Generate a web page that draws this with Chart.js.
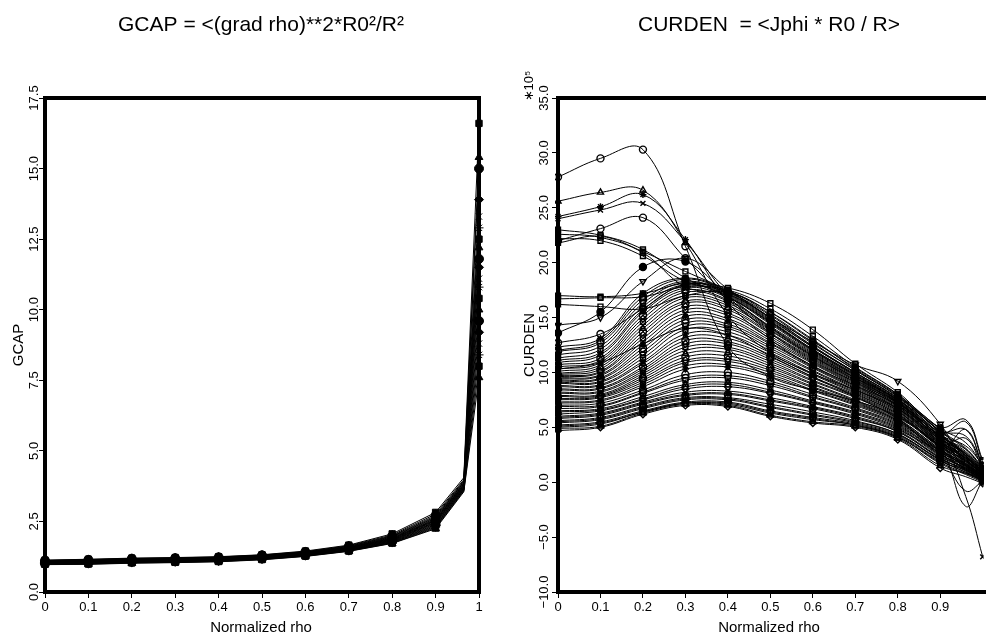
<!DOCTYPE html>
<html>
<head>
<meta charset="utf-8">
<script src="https://cdn.jsdelivr.net/npm/chart.js@4.4.0/dist/chart.umd.min.js"></script>
<style>
  html, body { margin: 0; padding: 0; background: #fff; }
  #wrap { position: relative; width: 986px; height: 641px; overflow: hidden; }
  canvas { position: absolute; top: 0; }
</style>
</head>
<body>
<div id="wrap">
  <canvas id="gcap" width="493" height="641" style="left:0"></canvas>
  <canvas id="curden" width="493" height="641" style="left:493px"></canvas>
</div>
<script>
/* GCAP profiles (left panel) */
const rhoGcap = [0, 0.1, 0.2, 0.3, 0.4, 0.5, 0.6, 0.7, 0.8, 0.9, 0.965, 1.0];
const gc01 = [1.13, 1.16, 1.20, 1.22, 1.25, 1.32, 1.45, 1.66, 2.06, 2.82, 4.05, 16.6];
const gc02 = [1.12, 1.15, 1.19, 1.21, 1.24, 1.31, 1.43, 1.64, 2.02, 2.76, 3.98, 15.4];
const gc03 = [1.11, 1.14, 1.18, 1.20, 1.23, 1.30, 1.42, 1.62, 1.99, 2.71, 3.94, 15.0];
const gc04 = [1.10, 1.13, 1.17, 1.19, 1.22, 1.29, 1.41, 1.61, 1.97, 2.67, 3.91, 13.9];
const gc05 = [1.09, 1.12, 1.16, 1.18, 1.21, 1.28, 1.40, 1.59, 1.95, 2.64, 3.88, 13.3];
const gc06 = [1.08, 1.11, 1.15, 1.17, 1.20, 1.27, 1.39, 1.58, 1.93, 2.61, 3.86, 12.9];
const gc07 = [1.07, 1.10, 1.14, 1.16, 1.19, 1.26, 1.38, 1.57, 1.91, 2.58, 3.83, 12.5];
const gc08 = [1.06, 1.09, 1.13, 1.16, 1.19, 1.25, 1.37, 1.56, 1.90, 2.56, 3.81, 12.2];
const gc09 = [1.06, 1.08, 1.12, 1.15, 1.18, 1.25, 1.36, 1.55, 1.88, 2.54, 3.79, 11.8];
const gc10 = [1.05, 1.08, 1.12, 1.14, 1.17, 1.24, 1.35, 1.54, 1.87, 2.52, 3.77, 11.5];
const gc11 = [1.04, 1.07, 1.11, 1.13, 1.16, 1.23, 1.34, 1.53, 1.85, 2.49, 3.75, 11.1];
const gc12 = [1.03, 1.06, 1.10, 1.12, 1.15, 1.22, 1.33, 1.52, 1.84, 2.47, 3.73, 10.8];
const gc13 = [1.03, 1.05, 1.09, 1.11, 1.14, 1.21, 1.32, 1.51, 1.82, 2.45, 3.71, 10.4];
const gc14 = [1.02, 1.04, 1.08, 1.10, 1.13, 1.20, 1.31, 1.50, 1.81, 2.42, 3.69, 10.0];
const gc15 = [1.01, 1.03, 1.07, 1.09, 1.12, 1.19, 1.31, 1.49, 1.79, 2.39, 3.67, 9.6];
const gc16 = [1.00, 1.02, 1.06, 1.08, 1.11, 1.18, 1.30, 1.48, 1.78, 2.36, 3.65, 9.2];
const gc17 = [1.00, 1.01, 1.05, 1.07, 1.10, 1.17, 1.29, 1.47, 1.76, 2.33, 3.63, 8.8];
const gc18 = [0.99, 1.00, 1.04, 1.06, 1.09, 1.16, 1.28, 1.46, 1.75, 2.30, 3.61, 8.4];
const gc19 = [0.98, 0.99, 1.03, 1.05, 1.08, 1.15, 1.27, 1.45, 1.73, 2.27, 3.58, 8.0];
const gc20 = [0.97, 0.98, 1.02, 1.04, 1.07, 1.14, 1.26, 1.44, 1.72, 2.24, 3.55, 7.6];
const gcapCurves = [gc01, gc02, gc03, gc04, gc05, gc06, gc07, gc08, gc09, gc10,
                    gc11, gc12, gc13, gc14, gc15, gc16, gc17, gc18, gc19, gc20];

/* CURDEN profiles (right panel), units of 1e5 */
const rhoCurden = [0, 0.1, 0.2, 0.3, 0.4, 0.5, 0.6, 0.7, 0.8, 0.9, 0.96, 1.0];
const cd01 = [27.8, 29.5, 30.3, 21.5, 12.4, 9.6, 8.4, 7.4, 6.0, 3.4, 2.2, 1.0];
const cd02 = [25.6, 26.4, 26.6, 21.8, 15.2, 11.8, 9.9, 8.4, 6.7, 3.9, 2.6, 1.2];
const cd03 = [24.2, 25.1, 26.2, 22.1, 16.4, 13.0, 10.6, 8.8, 7.0, 4.1, 3.0, 1.4];
const cd04 = [24.0, 24.8, 25.4, 21.9, 17.0, 13.6, 11.1, 9.1, 7.2, 4.3, 3.3, 1.6];
const cd05 = [22.0, 23.1, 24.1, 20.4, 16.6, 13.9, 11.5, 9.3, 7.3, 4.4, 5.5, 1.8];
const cd06 = [23.0, 22.5, 21.2, 18.6, 16.9, 14.6, 12.1, 9.8, 7.5, 4.6, 4.8, 1.5];
const cd07 = [22.6, 22.3, 20.9, 17.8, 17.1, 15.0, 12.4, 10.0, 7.7, 4.7, 3.1, 1.2];
const cd08 = [22.2, 22.0, 20.6, 18.3, 17.3, 15.2, 12.6, 10.2, 7.8, 4.8, 2.4, 1.0];
const cd09 = [21.8, 22.4, 21.0, 19.2, 17.5, 15.5, 12.9, 10.4, 8.0, 4.9, 3.6, 1.5];
const cd10 = [13.6, 15.5, 19.6, 20.1, 17.0, 14.1, 11.6, 9.5, 7.5, 4.5, 1.0, 0.5];
const cd11 = [14.3, 15.0, 18.3, 20.4, 17.6, 15.0, 12.8, 10.7, 9.2, 5.3, 1.5, 0.6];
const cd12 = [17.0, 16.9, 17.2, 18.1, 17.7, 16.3, 13.9, 10.8, 8.2, 5.0, 5.7, 2.0];
const cd13 = [16.7, 16.8, 16.9, 17.8, 17.5, 15.8, 13.3, 10.5, 8.0, 4.7, 4.2, 1.6];
const cd14 = [16.2, 16.0, 15.8, 17.0, 17.3, 15.5, 13.0, 10.3, 7.9, 4.6, 3.0, 1.2];
const cd15 = [12.7, 13.5, 15.8, 18.0, 17.4, 15.3, 12.7, 10.2, 7.8, 4.5, 2.0, 0.8];
const cd16 = [12.3, 13.1, 17.2, 18.6, 17.4, 15.0, 12.4, 10.0, 7.6, 4.4, 2.6, 1.0];
const cd17 = [11.9, 12.7, 16.6, 18.3, 17.2, 14.8, 12.3, 9.9, 7.5, 4.3, 2.3, 0.8];
const cd18 = [11.3, 12.1, 16.0, 18.0, 17.0, 14.6, 12.0, 9.7, 7.4, 4.2, 2.8, 1.1];
const cd19 = [10.9, 11.6, 15.5, 17.7, 16.8, 14.4, 11.9, 9.6, 7.3, 4.1, 2.1, 0.7];
const cd20 = [10.5, 11.1, 14.9, 17.3, 16.5, 14.1, 11.7, 9.5, 7.2, 4.0, 2.5, 0.9];
const cd21 = [10.1, 10.7, 14.3, 16.8, 16.1, 13.8, 11.4, 9.3, 7.0, 3.9, -1.3, -6.8];
const cd22 = [9.8, 10.3, 13.7, 16.3, 15.7, 13.5, 11.2, 9.1, 6.9, 3.8, 2.0, 0.8];
const cd23 = [9.6, 10.0, 13.1, 15.7, 15.2, 13.1, 10.9, 8.9, 6.8, 3.7, 2.4, 1.0];
const cd24 = [9.4, 9.7, 12.5, 15.1, 14.7, 12.7, 10.6, 8.7, 6.7, 3.6, 1.8, 0.6];
const cd25 = [9.2, 9.4, 11.9, 14.5, 14.2, 12.4, 10.4, 8.5, 6.5, 3.5, 2.2, 0.9];
const cd26 = [9.0, 9.1, 11.3, 13.9, 13.7, 12.0, 10.1, 8.3, 6.4, 3.4, 1.6, 0.5];
const cd27 = [8.7, 8.8, 10.8, 13.2, 13.1, 11.6, 9.8, 8.1, 6.2, 3.3, 2.0, 0.8];
const cd28 = [8.4, 8.5, 10.3, 12.6, 12.6, 11.2, 9.5, 7.9, 6.1, 3.2, 1.5, 0.4];
const cd29 = [8.1, 8.2, 9.9, 12.0, 12.1, 10.8, 9.2, 7.7, 5.9, 3.1, -2.2, 0.2];
const cd30 = [7.8, 7.9, 9.5, 11.4, 11.5, 10.4, 8.9, 7.4, 5.7, 3.0, 1.4, 0.5];
const cd31 = [7.5, 7.7, 9.1, 10.9, 11.0, 10.0, 8.6, 7.2, 5.6, 2.9, 1.7, 0.6];
const cd32 = [7.2, 7.4, 8.7, 10.3, 10.5, 9.6, 8.3, 7.0, 5.4, 2.8, 1.2, 0.3];
const cd33 = [7.0, 7.2, 8.4, 9.8, 10.0, 9.2, 8.0, 6.8, 5.3, 2.7, 1.6, 0.6];
const cd34 = [6.7, 6.9, 8.1, 9.3, 9.5, 8.8, 7.7, 6.6, 5.1, 2.6, 1.1, 0.2];
const cd35 = [6.5, 6.7, 7.8, 8.9, 9.1, 8.4, 7.4, 6.4, 5.0, 2.5, 1.5, 0.5];
const cd36 = [6.2, 6.5, 7.5, 8.5, 8.7, 8.1, 7.2, 6.2, 4.8, 2.4, -0.8, 0.1];
const cd37 = [6.0, 6.3, 7.3, 8.2, 8.3, 7.7, 6.9, 6.0, 4.7, 2.3, 1.3, 0.4];
const cd38 = [5.8, 6.1, 7.1, 7.9, 8.0, 7.4, 6.7, 5.8, 4.6, 2.2, 1.0, 0.2];
const cd39 = [5.6, 5.9, 6.9, 7.7, 7.7, 7.1, 6.4, 5.6, 4.4, 2.1, 1.2, 0.4];
const cd40 = [5.4, 5.7, 6.7, 7.5, 7.5, 6.8, 6.1, 5.4, 4.3, 2.0, 0.9, 0.1];
const cd41 = [5.2, 5.5, 6.5, 7.3, 7.3, 6.5, 5.9, 5.3, 4.2, 1.9, 1.1, 0.3];
const cd42 = [5.0, 5.3, 6.4, 7.2, 7.1, 6.3, 5.7, 5.2, 4.1, 1.7, 0.7, 0.0];
const cd43 = [4.9, 5.1, 6.3, 7.1, 7.0, 6.1, 5.5, 5.1, 4.0, 1.5, 0.8, 0.2];
const cd44 = [4.7, 5.0, 6.2, 7.0, 6.9, 6.0, 5.4, 5.0, 3.9, 1.3, 0.5, -0.1];
const cd45 = [10.3, 10.9, 12.6, 14.0, 13.4, 11.5, 9.6, 7.8, 5.8, 3.0, 4.8, 1.4];
const cd46 = [12.0, 12.9, 16.9, 18.5, 17.3, 14.9, 12.3, 10.0, 7.6, 4.4, 2.4, 0.9];
const cd47 = [11.6, 12.4, 16.3, 18.2, 17.1, 14.7, 12.1, 9.8, 7.4, 4.2, 2.6, 1.0];
const cd48 = [11.1, 11.8, 15.7, 17.9, 16.9, 14.5, 12.0, 9.7, 7.3, 4.1, 1.9, 0.6];
const cd49 = [10.7, 11.3, 15.2, 17.5, 16.6, 14.2, 11.8, 9.5, 7.2, 4.0, 2.7, 1.1];
const cd50 = [10.3, 10.9, 14.6, 17.0, 16.3, 14.0, 11.5, 9.4, 7.1, 3.9, 2.2, 0.8];
const cd51 = [9.9, 10.5, 14.0, 16.5, 15.9, 13.6, 11.3, 9.2, 7.0, 3.8, 1.7, 0.5];
const cd52 = [9.7, 10.1, 13.4, 16.0, 15.4, 13.3, 11.0, 9.0, 6.9, 3.7, 2.1, 0.8];
const cd53 = [9.5, 9.8, 12.8, 15.4, 14.9, 12.9, 10.8, 8.8, 6.7, 3.6, 2.3, 0.9];
const cd54 = [9.3, 9.5, 12.2, 14.8, 14.4, 12.6, 10.5, 8.6, 6.6, 3.5, 1.9, 0.7];
const cd55 = [9.1, 9.2, 11.6, 14.2, 14.0, 12.2, 10.2, 8.4, 6.5, 3.4, 4.0, 1.2];
const cd56 = [8.8, 8.9, 11.0, 13.5, 13.4, 11.8, 9.9, 8.2, 6.3, 3.3, 1.7, 0.6];
const cd57 = [8.5, 8.6, 10.5, 12.9, 12.8, 11.4, 9.6, 8.0, 6.2, 3.2, 1.9, 0.7];
const cd58 = [8.2, 8.3, 10.1, 12.3, 12.3, 11.0, 9.3, 7.8, 6.0, 3.1, 1.3, 0.4];
const cd59 = [7.9, 8.0, 9.7, 11.7, 11.8, 10.6, 9.0, 7.5, 5.8, 3.0, 1.6, 0.5];
const cd60 = [7.6, 7.8, 9.3, 11.1, 11.2, 10.2, 8.7, 7.3, 5.6, 2.9, 1.4, 0.4];
const cd61 = [7.3, 7.5, 8.9, 10.6, 10.7, 9.8, 8.4, 7.1, 5.5, 2.8, 1.5, 0.5];
const cd62 = [6.9, 7.0, 8.2, 9.5, 9.7, 9.0, 7.8, 6.7, 5.2, 2.6, 1.2, 0.3];
const cd63 = [6.4, 6.6, 7.6, 8.7, 8.9, 8.2, 7.3, 6.3, 4.9, 2.4, 1.3, 0.4];
const cd64 = [5.9, 6.2, 7.2, 8.0, 8.1, 7.5, 6.8, 5.9, 4.6, 2.2, 1.1, 0.3];
const cd65 = [5.5, 5.8, 6.8, 7.6, 7.6, 6.9, 6.2, 5.5, 4.4, 2.0, 0.9, 0.2];
const cd66 = [5.1, 5.4, 6.4, 7.2, 7.2, 6.4, 5.8, 5.2, 4.1, 1.8, 0.8, 0.1];
const curdenCurves = [cd01, cd02, cd03, cd04, cd05, cd06, cd07, cd08, cd09, cd10,
                      cd11, cd12, cd13, cd14, cd15, cd16, cd17, cd18, cd19, cd20,
                      cd21, cd22, cd23, cd24, cd25, cd26, cd27, cd28, cd29, cd30,
                      cd31, cd32, cd33, cd34, cd35, cd36, cd37, cd38, cd39, cd40,
                      cd41, cd42, cd43, cd44, cd45, cd46, cd47, cd48, cd49, cd50,
                      cd51, cd52, cd53, cd54, cd55, cd56, cd57, cd58, cd59, cd60,
                      cd61, cd62, cd63, cd64, cd65, cd66];

/* ticks */
const rhoTickVals = [0, 0.1, 0.2, 0.3, 0.4, 0.5, 0.6, 0.7, 0.8, 0.9, 1];
const rhoTickText = ['0', '0.1', '0.2', '0.3', '0.4', '0.5', '0.6', '0.7', '0.8', '0.9', '1'];
const gcapTickVals = [0, 2.5, 5, 7.5, 10, 12.5, 15, 17.5];
const gcapTickText = ['0.0', '2.5', '5.0', '7.5', '10.0', '12.5', '15.0', '17.5'];
const curdenTickVals = [-10, -5, 0, 5, 10, 15, 20, 25, 30, 35];
const curdenTickText = ['\u221210.0', '\u22125.0', '0.0', '5.0', '10.0', '15.0', '20.0', '25.0', '30.0', '35.0'];

const gcapMarks = ['rect', 'triangle', 'circle', 'rectRot', 'crossRot', 'star'];
const curdenMarks = ['circle', 'triangle', 'star', 'crossRot', 'circle', 'rect', 'rect', 'rect', 'rect',
                     'circle', 'triangleDown', 'rect', 'rect', 'rect', 'circle'];
const bundleMarks = ['circle', 'rect', 'triangle', 'rectRot', 'crossRot', 'circle', 'rect', 'star'];
const filledCurden = [2, 9];

const FONT = '"Liberation Sans", Arial, sans-serif';

// titles, frame and rotated y labels
const panelText = {
  id: 'panelText',
  afterDraw(chart, args, o) {
    const ctx = chart.ctx;
    const a = chart.chartArea;
    const ys = chart.scales.y;
    ctx.save();
    ctx.strokeStyle = '#000';
    ctx.lineWidth = 4;
    ctx.strokeRect(a.left, a.top, (o.openRight ? a.right + 20 : a.right) - a.left, a.bottom - a.top);

    ctx.fillStyle = '#000';
    ctx.textAlign = 'center';
    ctx.textBaseline = 'alphabetic';
    ctx.font = '21px ' + FONT;
    ctx.fillText(o.title, o.titleX, 31);

    ctx.font = '15px ' + FONT;
    ctx.textBaseline = 'middle';
    ctx.fillText('Normalized rho', o.titleX, 628);

    // y tick labels, rotated
    ctx.font = '13px ' + FONT;
    o.tickVals.forEach((v, i) => {
      ctx.save();
      ctx.translate(o.tickX, ys.getPixelForValue(v));
      ctx.rotate(-Math.PI / 2);
      ctx.fillText(o.tickText[i], 0, 0);
      ctx.restore();
    });

    ctx.font = '15px ' + FONT;
    ctx.save();
    ctx.translate(o.yTitleX, (a.top + a.bottom) / 2);
    ctx.rotate(-Math.PI / 2);
    ctx.fillText(o.yTitle, 0, 0);
    ctx.restore();

    if (o.exp) {
      ctx.save();
      ctx.translate(o.yTitleX - 1, 86);
      ctx.rotate(-Math.PI / 2);
      ctx.font = '13px ' + FONT;
      ctx.fillText(o.exp, 0, 0);
      ctx.restore();
    }
    ctx.restore();
  }
};

function makeSets(xs, curves, styleFor, opt) {
  return curves.map((ys, i) => {
    const s = styleFor(i);
    return {
      data: xs.map((x, j) => ({ x: x, y: ys[j] })),
      borderColor: '#000',
      borderWidth: 1,
      pointStyle: s.style,
      pointRotation: s.rot,
      pointBackgroundColor: s.fill ? '#000' : 'rgba(0,0,0,0)',
      pointBorderColor: '#000',
      pointBorderWidth: opt.pw,
      pointRadius: c => (c.raw && c.raw.x === opt.hideX) ? 0 : opt.r,
      tension: opt.tension,
      clip: opt.clip
    };
  });
}

function makeOptions(cfg) {
  const tickGrid = { drawOnChartArea: false, drawTicks: true, tickLength: 6, color: '#000', lineWidth: 1 };
  return {
    responsive: false,
    animation: false,
    devicePixelRatio: 1,
    layout: { padding: cfg.pad },
    plugins: { legend: { display: false }, tooltip: { enabled: false }, title: { display: false }, panelText: cfg.text },
    scales: {
      x: {
        type: 'linear', min: 0, max: cfg.xMax,
        afterFit: s => { s.height = 49; },
        afterBuildTicks: s => { s.ticks = cfg.xVals.map(v => ({ value: v })); },
        border: { display: false },
        grid: tickGrid,
        ticks: {
          color: '#000', font: { family: FONT, size: 13 }, padding: 2,
          maxRotation: 0, autoSkip: false,
          callback: (v, i) => cfg.xText[i]
        }
      },
      y: {
        type: 'linear', min: cfg.yMin, max: cfg.yMax,
        afterFit: s => { s.width = cfg.yWidth; },
        afterBuildTicks: s => { s.ticks = cfg.yVals.map(v => ({ value: v })); },
        border: { display: false },
        grid: tickGrid,
        ticks: { display: false }
      }
    }
  };
}

new Chart(document.getElementById('gcap'), {
  type: 'line',
  data: {
    datasets: makeSets(rhoGcap, gcapCurves,
      i => ({ style: gcapMarks[i % gcapMarks.length], rot: 0, fill: true }),
      { hideX: 0.965, r: 4.5, pw: 1, tension: 0, clip: 8 })
  },
  options: makeOptions({
    pad: { top: 98, left: 0, right: 14, bottom: 0 },
    xMax: 1, xVals: rhoTickVals, xText: rhoTickText,
    yMin: 0, yMax: 17.5, yVals: gcapTickVals, yWidth: 45,
    text: {
      title: 'GCAP = <(grad rho)**2*R0\u00b2/R\u00b2', titleX: 261,
      yTitle: 'GCAP', yTitleX: 19, tickX: 34,
      tickVals: gcapTickVals, tickText: gcapTickText
    }
  }),
  plugins: [panelText]
});

new Chart(document.getElementById('curden'), {
  type: 'line',
  data: {
    datasets: makeSets(rhoCurden, curdenCurves,
      i => {
        let m = i < curdenMarks.length ? curdenMarks[i] : bundleMarks[i % bundleMarks.length];
        let rot = 0;
        if (m === 'triangleDown') { m = 'triangle'; rot = 180; }
        return { style: m, rot: rot, fill: filledCurden.includes(i) };
      },
      { hideX: 0.96, r: 3.5, pw: 1.4, tension: 0.4, clip: 3 })
  },
  options: makeOptions({
    pad: { top: 98, left: 0, right: 0, bottom: 0 },
    xMax: 0.995, xVals: rhoTickVals.slice(0, 10), xText: rhoTickText,
    yMin: -10, yMax: 35, yVals: curdenTickVals, yWidth: 65,
    text: {
      title: 'CURDEN  = <Jphi * R0 / R>', titleX: 276,
      yTitle: 'CURDEN', yTitleX: 37, tickX: 51,
      tickVals: curdenTickVals, tickText: curdenTickText,
      exp: '\u221710\u2075', openRight: true
    }
  }),
  plugins: [panelText]
});
</script>
</body>
</html>
